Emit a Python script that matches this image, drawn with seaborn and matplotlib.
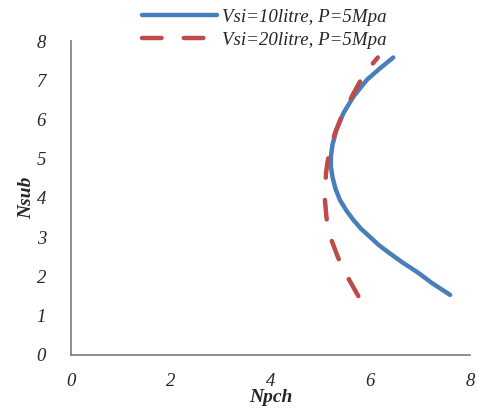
import pandas as pd
import matplotlib.pyplot as plt
import seaborn as sns

# values
npch_10 = [7.60, 7.25, 6.93, 6.64, 6.39, 6.17, 5.99, 5.81, 5.66, 5.52, 5.39, 5.30,
           5.24, 5.21, 5.21, 5.24, 5.32, 5.46, 5.66, 5.93, 6.19, 6.46]
nsub_10 = [1.53, 1.82, 2.12, 2.36, 2.59, 2.80, 3.01, 3.22, 3.44, 3.68, 3.95, 4.24,
           4.54, 4.80, 5.05, 5.35, 5.73, 6.16, 6.58, 7.01, 7.30, 7.58]
npch_20 = [5.76, 5.56, 5.36, 5.22, 5.15, 5.12, 5.09, 5.10, 5.11, 5.16, 5.22, 5.29,
           5.42, 5.66, 5.83, 5.98, 6.15]
nsub_20 = [1.50, 1.95, 2.46, 2.93, 3.22, 3.52, 3.95, 4.30, 4.63, 5.05, 5.35, 5.65,
           6.07, 6.66, 7.05, 7.32, 7.58]
labels = ["Vsi=10litre, P=5Mpa", "Vsi=20litre, P=5Mpa"]
x_ticks = [0, 2, 4, 6, 8]
y_ticks = [0, 1, 2, 3, 4, 5, 6, 7, 8]

sns.set_theme(style="white")
plt.rcParams["font.family"] = ["Liberation Serif", "DejaVu Serif"]

df = pd.concat([
    pd.DataFrame({"Npch": npch_10, "Nsub": nsub_10, "case": labels[0]}),
    pd.DataFrame({"Npch": npch_20, "Nsub": nsub_20, "case": labels[1]}),
])

fig = plt.figure(figsize=(4.78, 4.08), dpi=100)
ax = fig.add_axes([0.1485, 0.130, 0.835, 0.7695])

palette = {labels[0]: "#4A7EBB", labels[1]: "#BE4B48"}
sns.lineplot(data=df, x="Npch", y="Nsub", hue="case", palette=palette,
             sort=False, estimator=None, linewidth=3.2, ax=ax, legend=False)

lines = ax.get_lines()
for ln in lines:
    ln.set_solid_capstyle("round")
    ln.set_dash_capstyle("round")
    ln.set_solid_joinstyle("round")
lines[1].set_linestyle((0, (4.4, 5.0)))

ax.set_xlim(0, 8)
ax.set_ylim(0, 8)
ax.set_xticks(x_ticks)
ax.set_yticks(y_ticks)
ax.tick_params(axis="both", length=0, labelsize=13.5)
ax.tick_params(axis="x", pad=13)
ax.tick_params(axis="y", pad=18)
for t in ax.get_xticklabels() + ax.get_yticklabels():
    t.set_style("italic")

ax.set_xlabel("Npch", fontsize=14, fontweight="bold", style="italic", labelpad=-1)
ax.set_ylabel("Nsub", fontsize=14, fontweight="bold", style="italic", labelpad=1)

sns.despine(ax=ax)
for side in ["left", "bottom"]:
    ax.spines[side].set_color("#868686")
    ax.spines[side].set_linewidth(1.3)

fig.legend(lines, labels, loc="upper center", bbox_to_anchor=(0.553, 1.02),
           frameon=False, handlelength=4.0, handletextpad=0.25,
           labelspacing=0.3, prop={"style": "italic", "size": 13.6})

fig.savefig("out.png", dpi=100)
